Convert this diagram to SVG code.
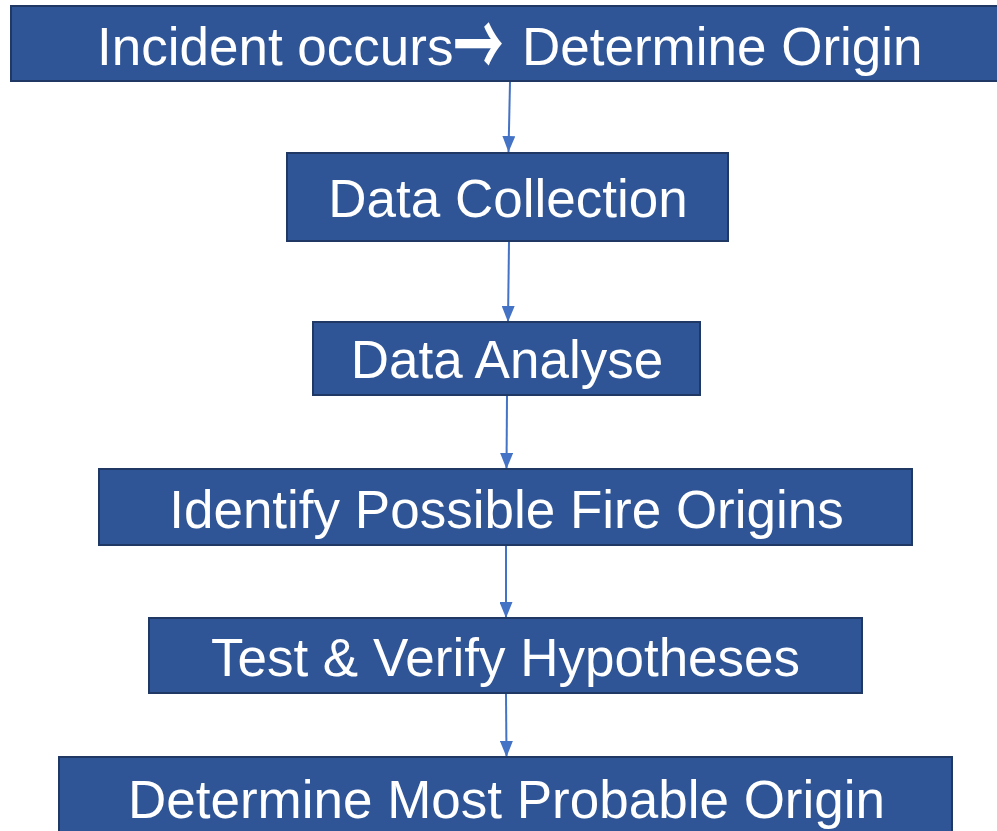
<svg xmlns="http://www.w3.org/2000/svg" width="997" height="831" viewBox="0 0 997 831">
  <defs>
    <style>
      .box { fill: #2F5597; stroke: #1F3864; stroke-width: 2; }
      .label { fill: #FFFFFF; font-family: "Liberation Sans", Arial, sans-serif; font-size: 53px; text-anchor: middle; }
      .arrowglyph { fill: #FFFFFF; font-family: "Noto Sans CJK JP", "DejaVu Sans", sans-serif; font-weight: 700; font-size: 90px; text-anchor: middle; }
      .link { stroke: #4472C4; stroke-width: 2; fill: none; marker-end: url(#head); }
    </style>
    <marker id="head" viewBox="0 0 16 13" refX="16" refY="6.5" markerWidth="16" markerHeight="13" markerUnits="userSpaceOnUse" orient="auto">
      <path d="M0,0 L16,6.5 L0,13 Z" fill="#4472C4"/>
    </marker>
  </defs>
  <rect width="997" height="831" fill="#FFFFFF"/>

  <g id="connectors">
    <line class="link" x1="510" y1="82" x2="508.5" y2="152"/>
    <line class="link" x1="509" y1="242" x2="508" y2="322"/>
    <line class="link" x1="507" y1="396" x2="506.5" y2="469"/>
    <line class="link" x1="506" y1="546" x2="506" y2="618"/>
    <line class="link" x1="506" y1="694" x2="506.5" y2="757"/>
  </g>

  <g id="incident">
    <rect class="box" x="11" y="6" width="990" height="75"/>
    <text class="label" x="97" y="65" style="text-anchor:start">Incident occurs</text>
    <text class="arrowglyph" transform="translate(478.5,78) scale(0.56,1)">→</text>
    <text class="label" x="522" y="65" style="text-anchor:start">Determine Origin</text>
  </g>

  <g id="collection">
    <rect class="box" x="287" y="153" width="441" height="88"/>
    <text class="label" x="508" y="217">Data Collection</text>
  </g>

  <g id="analyse">
    <rect class="box" x="313" y="322" width="387" height="73"/>
    <text class="label" x="507" y="378">Data Analyse</text>
  </g>

  <g id="origins">
    <rect class="box" x="99" y="469" width="813" height="76"/>
    <text class="label" x="506.5" y="528">Identify Possible Fire Origins</text>
  </g>

  <g id="verify">
    <rect class="box" x="149" y="618" width="713" height="75"/>
    <text class="label" x="505.5" y="676">Test &amp; Verify Hypotheses</text>
  </g>

  <g id="probable">
    <rect class="box" x="59" y="757" width="893" height="80"/>
    <text class="label" x="506.5" y="818">Determine Most Probable Origin</text>
  </g>
</svg>
